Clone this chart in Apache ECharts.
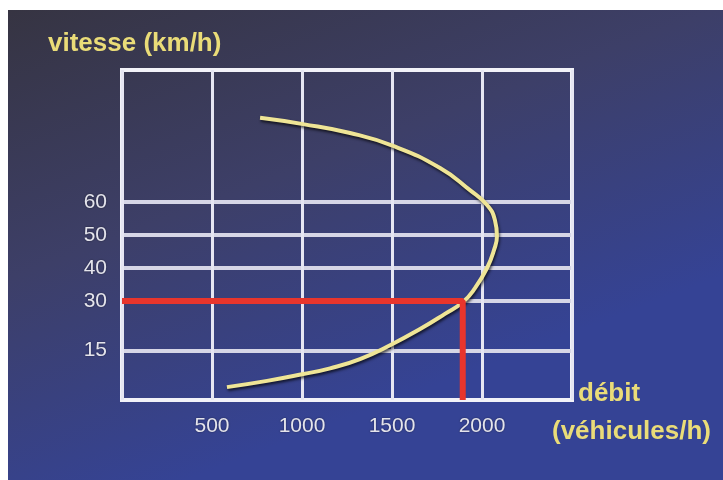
<!DOCTYPE html>
<html>
<head>
<meta charset="utf-8">
<script src="https://cdn.jsdelivr.net/npm/echarts@6/dist/echarts.min.js"></script>
<style>
html,body{margin:0;padding:0;background:#ffffff;}
#c{width:723px;height:480px;}
</style>
</head>
<body>
<div id="c"></div>
<script>
// Data
var speedTicks = [15, 30, 40, 50, 60];
var flowTicks = [500, 1000, 1500, 2000];
var curveFlow  = [767, 1006, 1267, 1506, 1767, 1933, 2028, 2072, 2083, 2067, 2028, 1961, 1894, 1794, 1656, 1500, 1322, 1156, 1000, 806, 583];
var curveSpeed = [85.5, 83.6, 80.9, 77.0, 70.3, 63.6, 59.1, 54.5, 49.7, 45.5, 40.0, 33.9, 29.7, 26.1, 21.5, 16.9, 12.4, 9.6, 7.8, 5.8, 3.9];
var readSpeed = 30;
var readFlow = 1893;

var curveData = curveFlow.map(function (f, i) { return [f, curveSpeed[i]]; });

var titleFont = 'bold 26px "Liberation Sans", Arial, sans-serif';
var titleFill = '#eadc78';

var chart = echarts.init(document.getElementById('c'));
chart.setOption({
  animation: false,
  backgroundColor: '#ffffff',
  graphic: [
    {
      type: 'rect', z: -10, silent: true,
      shape: { x: 8, y: 10, width: 715, height: 470 },
      style: {
        fill: {
          type: 'linear', x: 0, y: 0, x2: 0.25, y2: 1,
          colorStops: [
            { offset: 0, color: '#363442' },
            { offset: 0.5, color: '#3d3f68' },
            { offset: 1, color: '#354395' }
          ]
        }
      }
    },
    {
      type: 'text', left: 48, top: 31,
      style: { text: 'vitesse (km/h)', fill: titleFill, font: titleFont,
               shadowColor: 'rgba(0,0,0,0.7)', shadowBlur: 3, shadowOffsetX: 1, shadowOffsetY: 1 }
    },
    {
      type: 'text', left: 578, top: 381,
      style: { text: 'débit', fill: titleFill, font: titleFont,
               shadowColor: 'rgba(0,0,0,0.6)', shadowBlur: 3, shadowOffsetX: 1, shadowOffsetY: 1 }
    },
    {
      type: 'text', left: 552, top: 419,
      style: { text: '(véhicules/h)', fill: titleFill, font: titleFont,
               shadowColor: 'rgba(0,0,0,0.6)', shadowBlur: 3, shadowOffsetX: 1, shadowOffsetY: 1 }
    }
  ],
  grid: {
    left: 122, top: 70, width: 450, height: 330,
    show: true, borderColor: '#f2f2f8', borderWidth: 4, backgroundColor: 'transparent'
  },
  xAxis: {
    type: 'value', min: 0, max: 2500, interval: 500,
    axisLine: { show: false }, axisTick: { show: false },
    splitLine: { show: true, lineStyle: { color: '#e6e6f2', width: 3 } },
    axisLabel: {
      margin: 16, color: '#e4e4ec', fontSize: 21, fontFamily: '"Liberation Sans", Arial, sans-serif',
      textShadowColor: 'rgba(0,0,0,0.5)', textShadowBlur: 2,
      formatter: function (v) { return flowTicks.indexOf(v) >= 0 ? String(v) : ''; }
    }
  },
  yAxis: {
    type: 'value', min: 0, max: 100,
    axisLine: { show: false },
    axisTick: { show: false, customValues: speedTicks },
    splitLine: { show: true, lineStyle: { color: '#d6d6e6', width: 4 } },
    axisLabel: {
      customValues: speedTicks, margin: 15, color: '#e4e4ec', fontSize: 21,
      fontFamily: '"Liberation Sans", Arial, sans-serif',
      textShadowColor: 'rgba(0,0,0,0.5)', textShadowBlur: 2
    }
  },
  series: [
    {
      type: 'line', data: curveData, smooth: 0.5, symbol: 'none',
      lineStyle: { color: '#efe596', width: 4, shadowColor: 'rgba(0,0,0,0.7)', shadowBlur: 3, shadowOffsetX: 1, shadowOffsetY: 2 },
      z: 3
    },
    {
      type: 'line', data: [[0, readSpeed], [readFlow, readSpeed], [readFlow, 0]], symbol: 'none',
      lineStyle: { color: '#e8352c', width: 6, cap: 'butt' }, z: 4
    }
  ]
});
</script>
</body>
</html>
